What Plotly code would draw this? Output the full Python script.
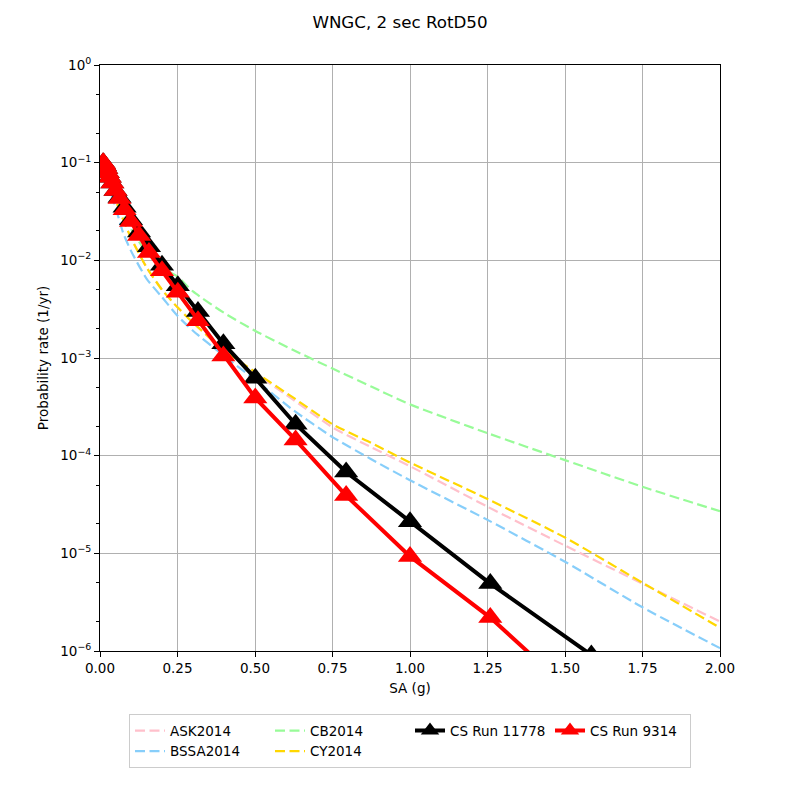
"""Hazard curves for WNGC, 2 sec RotD50: GMPE curves vs two CyberShake runs."""
import plotly.graph_objects as go

# GMPE hazard curves (SA in g, annual rate)
gmpe_sa = [0.01, 0.02, 0.05, 0.075, 0.1, 0.15, 0.2, 0.25, 0.3, 0.4, 0.5,
           0.625, 0.75, 0.875, 1.0, 1.25, 1.5, 1.75, 2.0]
ask2014 = [0.1, 0.08, 0.042, 0.026, 0.017, 8.5e-3, 5.0e-3, 3.3e-3, 2.3e-3, 1.2e-3, 7.0e-4,
           3.7e-4, 1.95e-4, 1.22e-4, 7.8e-5, 3.0e-5, 1.2e-5, 4.9e-6, 2.0e-6]
bssa2014 = [0.09, 0.07, 0.035, 0.019, 0.0125, 6.5e-3, 4.2e-3, 2.7e-3, 1.9e-3, 1.05e-3, 6.0e-4,
            2.9e-4, 1.55e-4, 9.2e-5, 5.6e-5, 2.2e-5, 8.2e-6, 2.8e-6, 1.07e-6]
cb2014 = [0.1, 0.08, 0.045, 0.03, 0.021, 0.012, 8.5e-3, 6.8e-3, 4.8e-3, 2.9e-3, 1.9e-3,
          1.2e-3, 7.8e-4, 5.1e-4, 3.35e-4, 1.7e-4, 9.0e-5, 4.8e-5, 2.7e-5]
cy2014 = [0.1, 0.08, 0.042, 0.026, 0.017, 8.5e-3, 5.0e-3, 3.3e-3, 2.3e-3, 1.2e-3, 7.2e-4,
          3.9e-4, 2.1e-4, 1.35e-4, 8.5e-5, 3.6e-5, 1.45e-5, 5.0e-6, 1.73e-6]

# CyberShake hazard curves
cs_sa = [0.01, 0.0126, 0.0158, 0.02, 0.0251, 0.0316, 0.0398, 0.0501, 0.0631, 0.0794,
         0.1, 0.126, 0.158, 0.2, 0.251, 0.316, 0.398, 0.501, 0.631, 0.794,
         1.0, 1.259, 1.585, 1.995]
cs_11778 = [0.1, 0.098, 0.093, 0.087, 0.079, 0.071, 0.062, 0.052, 0.044, 0.035,
            0.026, 0.0195, 0.0138, 0.0089, 0.0055, 0.0030, 0.0014, 6.2e-4, 2.1e-4, 6.8e-5,
            2.1e-5, 4.9e-6, 9.1e-7, 1.6e-7]
cs_9314 = [0.1, 0.098, 0.093, 0.087, 0.079, 0.071, 0.062, 0.052, 0.043, 0.033,
           0.025, 0.018, 0.012, 0.0078, 0.0047, 0.0024, 0.00105, 3.9e-4, 1.45e-4, 3.9e-5,
           9.3e-6, 2.2e-6, 2.5e-7, 3.2e-8]

x_ticks = [0.0, 0.25, 0.5, 0.75, 1.0, 1.25, 1.5, 1.75, 2.0]
y_exps = [0, -1, -2, -3, -4, -5, -6]

FONT = "DejaVu Sans"

fig = go.Figure()

gmpes = [
    ("ASK2014", ask2014, "pink", 1),
    ("BSSA2014", bssa2014, "lightskyblue", 5),
    ("CB2014", cb2014, "palegreen", 2),
    ("CY2014", cy2014, "gold", 6),
]
for name, ys, color, rank in gmpes:
    fig.add_trace(go.Scatter(
        x=gmpe_sa, y=ys, mode="lines", name=name, legendrank=rank,
        line=dict(color=color, width=2.2, dash="10px,4.5px", shape="spline", smoothing=0.6),
    ))

for name, ys, color, rank in [("CS Run 11778", cs_11778, "black", 3),
                              ("CS Run 9314", cs_9314, "red", 4)]:
    fig.add_trace(go.Scatter(
        x=cs_sa, y=ys, mode="lines+markers", name=name, legendrank=rank,
        line=dict(color=color, width=4),
        marker=dict(symbol="triangle-up", size=21, color=color),
    ))

# the page adds ~8px offset, so margins are shifted to compensate
fig.update_layout(
    width=800, height=800,
    margin=dict(l=92, r=88, t=57, b=157),
    paper_bgcolor="white", plot_bgcolor="white",
    font=dict(family=FONT, size=13.5, color="black"),
    title=dict(text="WNGC, 2 sec RotD50", x=0.49, xref="container", xanchor="center",
               y=1 - 14 / 800, yref="container", yanchor="middle",
               font=dict(family=FONT, size=16.7)),
    showlegend=True,
    legend=dict(orientation="h", x=0.5, xanchor="center", y=-0.108, yanchor="top",
                bgcolor="white", bordercolor="#cccccc", borderwidth=1,
                entrywidth=95, entrywidthmode="pixels", tracegroupgap=0,
                font=dict(family=FONT, size=13.5)),
)

fig.update_xaxes(
    title=dict(text="SA (g)", standoff=8, font=dict(size=13.5)),
    range=[0, 2], tickvals=x_ticks, ticktext=[f"{v:.2f}" for v in x_ticks],
    showgrid=True, gridcolor="#b0b0b0", gridwidth=1,
    showline=True, linecolor="black", linewidth=1, mirror=True,
    ticks="outside", ticklen=5, tickcolor="black", zeroline=False,
)
fig.update_yaxes(
    title=dict(text="Probability rate (1/yr)", standoff=8, font=dict(size=13.5)),
    type="log", range=[-6, 0],
    tickvals=[10 ** e for e in y_exps],
    ticktext=[f"10<sup>{'−' if e < 0 else ''}{abs(e)}</sup>" for e in y_exps],
    showgrid=True, gridcolor="#b0b0b0", gridwidth=1,
    showline=True, linecolor="black", linewidth=1, mirror=True,
    ticks="outside", ticklen=5, tickcolor="black", zeroline=False,
    minor=dict(ticks="outside", ticklen=3, tickcolor="black", showgrid=False),
)

fig.write_html("out.html")
